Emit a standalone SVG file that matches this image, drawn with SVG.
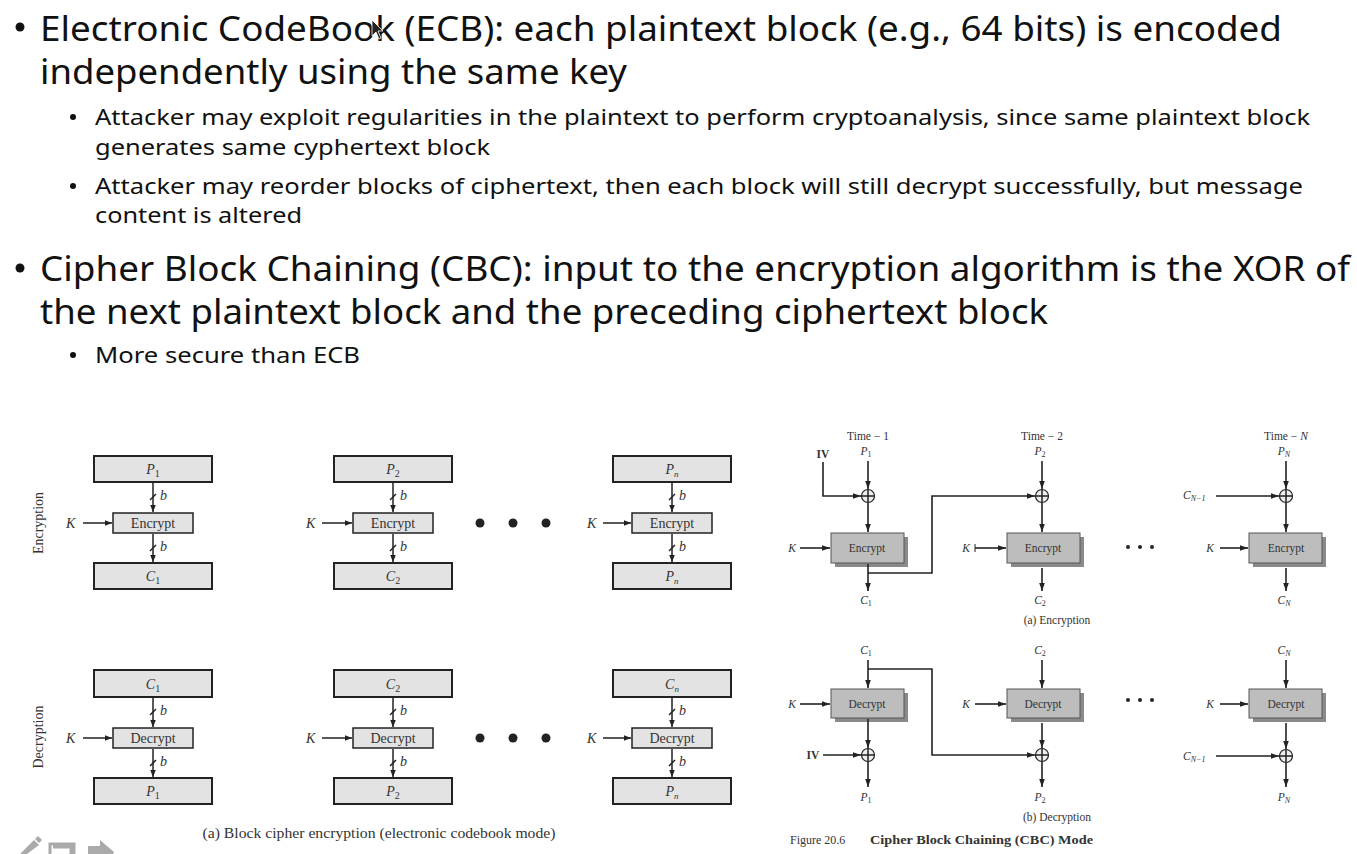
<svg xmlns="http://www.w3.org/2000/svg" width="1357" height="854" viewBox="0 0 1357 854">
<defs>
<marker id="ah" viewBox="0 0 10 10" refX="10" refY="5" markerWidth="7" markerHeight="7" markerUnits="userSpaceOnUse" orient="auto"><path d="M0,1 L10,5 L0,9 z" fill="#222"/></marker>
<marker id="ah2" viewBox="0 0 10 10" refX="10" refY="5" markerWidth="8" markerHeight="8" markerUnits="userSpaceOnUse" orient="auto"><path d="M0,1.5 L10,5 L0,8.5 z" fill="#222"/></marker>
</defs>
<style>
.h1{font-family:"Noto Sans","Open Sans","DejaVu Sans",sans-serif;font-size:35px;fill:#111}
.h2{font-family:"Noto Sans","Open Sans","DejaVu Sans",sans-serif;font-size:22.5px;fill:#111}
.box{fill:#e3e3e3;stroke:#222;stroke-width:2}
.ebox{fill:#e3e3e3;stroke:#222;stroke-width:1.5}
.st{font-family:"Liberation Serif","Times New Roman",serif;fill:#333}
.lbl{font-size:14px}
.it{font-style:italic}
.ln{stroke:#222;stroke-width:1.5;fill:none}
.ln2{stroke:#222;stroke-width:1.6;fill:none}
.cbox{fill:#bdbdbd;stroke:#555;stroke-width:1}
.shad{fill:#8a8a8a}
.sm{font-size:11.5px}
.xor{fill:#eee;stroke:#222;stroke-width:1.2}
</style>
<rect width="1357" height="854" fill="#ffffff"/>

<g id="text">
<circle cx="20" cy="27" r="4.5" fill="#111"/>
<text class="h1" x="40" y="41" textLength="1242" lengthAdjust="spacingAndGlyphs">Electronic CodeBook (ECB): each plaintext block (e.g., 64 bits) is encoded</text>
<text class="h1" x="40" y="84" textLength="587" lengthAdjust="spacingAndGlyphs">independently using the same key</text>
<circle cx="73" cy="117" r="3" fill="#111"/>
<text class="h2" x="95" y="125" textLength="1215" lengthAdjust="spacingAndGlyphs">Attacker may exploit regularities in the plaintext to perform cryptoanalysis, since same plaintext block</text>
<text class="h2" x="95" y="155" textLength="395" lengthAdjust="spacingAndGlyphs">generates same cyphertext block</text>
<circle cx="73" cy="186" r="3" fill="#111"/>
<text class="h2" x="95" y="194" textLength="1208" lengthAdjust="spacingAndGlyphs">Attacker may reorder blocks of ciphertext, then each block will still decrypt successfully, but message</text>
<text class="h2" x="95" y="223" textLength="207" lengthAdjust="spacingAndGlyphs">content is altered</text>
<circle cx="20" cy="268" r="4.5" fill="#111"/>
<text class="h1" x="40" y="281" textLength="1310" lengthAdjust="spacingAndGlyphs">Cipher Block Chaining (CBC): input to the encryption algorithm is the XOR of</text>
<text class="h1" x="40" y="324" textLength="1008" lengthAdjust="spacingAndGlyphs">the next plaintext block and the preceding ciphertext block</text>
<circle cx="73" cy="355" r="3" fill="#111"/>
<text class="h2" x="95" y="363" textLength="265" lengthAdjust="spacingAndGlyphs">More secure than ECB</text>
<path d="M372,20 L372,36 L376,32 L379,39 L381,38 L378,31 L383,31 Z" fill="#222" stroke="#fff" stroke-width="0.8"/>
</g>

<g id="ecb-labels" class="st">
<text x="43" y="523" font-size="14" text-anchor="middle" transform="rotate(-90 43 523)">Encryption</text>
<text x="43" y="737" font-size="14" text-anchor="middle" transform="rotate(-90 43 737)">Decryption</text>
<text x="379" y="838" font-size="14" text-anchor="middle" textLength="353" lengthAdjust="spacingAndGlyphs">(a) Block cipher encryption (electronic codebook mode)</text>
</g>

<g id="ecb-enc-1">
<rect class="box" x="94" y="456" width="118" height="26"/>
<text class="st it lbl" x="153" y="474" text-anchor="middle">P<tspan font-size="10" dy="3" font-style="normal">1</tspan></text>
<rect class="ebox" x="113" y="513" width="80" height="20"/>
<text class="st lbl" x="153" y="528" text-anchor="middle">Encrypt</text>
<rect class="box" x="94" y="563" width="118" height="26"/>
<text class="st it lbl" x="153" y="581" text-anchor="middle">C<tspan font-size="10" dy="3" font-style="normal">1</tspan></text>
</g>
<g id="ecb-enc-2">
<rect class="box" x="334" y="456" width="118" height="26"/>
<text class="st it lbl" x="393" y="474" text-anchor="middle">P<tspan font-size="10" dy="3" font-style="normal">2</tspan></text>
<rect class="ebox" x="353" y="513" width="80" height="20"/>
<text class="st lbl" x="393" y="528" text-anchor="middle">Encrypt</text>
<rect class="box" x="334" y="563" width="118" height="26"/>
<text class="st it lbl" x="393" y="581" text-anchor="middle">C<tspan font-size="10" dy="3" font-style="normal">2</tspan></text>
</g>
<g id="ecb-enc-n">
<rect class="box" x="613" y="456" width="118" height="26"/>
<text class="st it lbl" x="672" y="474" text-anchor="middle">P<tspan font-size="9" dy="3">n</tspan></text>
<rect class="ebox" x="632" y="513" width="80" height="20"/>
<text class="st lbl" x="672" y="528" text-anchor="middle">Encrypt</text>
<rect class="box" x="613" y="563" width="118" height="26"/>
<text class="st it lbl" x="672" y="581" text-anchor="middle">P<tspan font-size="9" dy="3">n</tspan></text>
</g>
<g id="ecb-dec-1">
<rect class="box" x="94" y="670" width="118" height="27"/>
<text class="st it lbl" x="153" y="689" text-anchor="middle">C<tspan font-size="10" dy="3" font-style="normal">1</tspan></text>
<rect class="ebox" x="113" y="728" width="80" height="20"/>
<text class="st lbl" x="153" y="743" text-anchor="middle">Decrypt</text>
<rect class="box" x="94" y="778" width="118" height="26"/>
<text class="st it lbl" x="153" y="796" text-anchor="middle">P<tspan font-size="10" dy="3" font-style="normal">1</tspan></text>
</g>
<g id="ecb-dec-2">
<rect class="box" x="334" y="670" width="118" height="27"/>
<text class="st it lbl" x="393" y="689" text-anchor="middle">C<tspan font-size="10" dy="3" font-style="normal">2</tspan></text>
<rect class="ebox" x="353" y="728" width="80" height="20"/>
<text class="st lbl" x="393" y="743" text-anchor="middle">Decrypt</text>
<rect class="box" x="334" y="778" width="118" height="26"/>
<text class="st it lbl" x="393" y="796" text-anchor="middle">P<tspan font-size="10" dy="3" font-style="normal">2</tspan></text>
</g>
<g id="ecb-dec-n">
<rect class="box" x="613" y="670" width="118" height="27"/>
<text class="st it lbl" x="672" y="689" text-anchor="middle">C<tspan font-size="9" dy="3">n</tspan></text>
<rect class="ebox" x="632" y="728" width="80" height="20"/>
<text class="st lbl" x="672" y="743" text-anchor="middle">Decrypt</text>
<rect class="box" x="613" y="778" width="118" height="26"/>
<text class="st it lbl" x="672" y="796" text-anchor="middle">P<tspan font-size="9" dy="3">n</tspan></text>
</g>

<g id="ecb-connectors">
<g class="ln" marker-end="url(#ah)">
<path d="M153,483 V512"/><path d="M153,534 V562"/>
<path d="M393,483 V512"/><path d="M393,534 V562"/>
<path d="M672,483 V512"/><path d="M672,534 V562"/>
<path d="M153,698 V727"/><path d="M153,749 V777"/>
<path d="M393,698 V727"/><path d="M393,749 V777"/>
<path d="M672,698 V727"/><path d="M672,749 V777"/>
<path d="M83,523 H112"/><path d="M322,523 H352"/><path d="M603,523 H631"/>
<path d="M83,738 H112"/><path d="M322,738 H352"/><path d="M603,738 H631"/>
</g>
<g class="ln">
<path d="M150,500 L156,494"/><path d="M150,551 L156,545"/>
<path d="M390,500 L396,494"/><path d="M390,551 L396,545"/>
<path d="M669,500 L675,494"/><path d="M669,551 L675,545"/>
<path d="M150,715 L156,709"/><path d="M150,766 L156,760"/>
<path d="M390,715 L396,709"/><path d="M390,766 L396,760"/>
<path d="M669,715 L675,709"/><path d="M669,766 L675,760"/>
</g>
<g class="st it" font-size="14">
<text x="160" y="500">b</text><text x="160" y="551">b</text>
<text x="400" y="500">b</text><text x="400" y="551">b</text>
<text x="679" y="500">b</text><text x="679" y="551">b</text>
<text x="160" y="715">b</text><text x="160" y="766">b</text>
<text x="400" y="715">b</text><text x="400" y="766">b</text>
<text x="679" y="715">b</text><text x="679" y="766">b</text>
<text x="66" y="528">K</text><text x="306" y="528">K</text><text x="587" y="528">K</text>
<text x="66" y="743">K</text><text x="306" y="743">K</text><text x="587" y="743">K</text>
</g>
<g fill="#222">
<circle cx="480" cy="523" r="4.5"/><circle cx="513" cy="523" r="4.5"/><circle cx="546" cy="523" r="4.5"/>
<circle cx="480" cy="738" r="4.5"/><circle cx="513" cy="738" r="4.5"/><circle cx="546" cy="738" r="4.5"/>
</g>
</g>

<g id="cbc-enc-1">
<text class="st sm" x="868" y="440" text-anchor="middle">Time − 1</text>
<text class="st sm it" x="866" y="455" text-anchor="middle">P<tspan font-size="8" dy="2" font-style="normal">1</tspan></text>
<text class="st sm" x="823" y="458" text-anchor="middle" font-weight="bold">IV</text>
<circle class="xor" cx="868" cy="496" r="6.5"/><path class="ln" d="M868,489.5 V502.5 M861.5,496 H874.5" stroke-width="0.8"/>
<rect class="shad" x="835" y="537" width="73" height="30"/>
<rect class="cbox" x="831" y="533" width="73" height="30"/>
<text class="st sm" x="867" y="552" text-anchor="middle">Encrypt</text>
<text class="st sm it" x="792" y="552" text-anchor="middle">K</text>
<text class="st sm it" x="866" y="604" text-anchor="middle">C<tspan font-size="8" dy="2" font-style="normal">1</tspan></text>
</g>
<g id="cbc-enc-2">
<text class="st sm" x="1042" y="440" text-anchor="middle">Time − 2</text>
<text class="st sm it" x="1040" y="455" text-anchor="middle">P<tspan font-size="8" dy="2" font-style="normal">2</tspan></text>
<circle class="xor" cx="1042" cy="496" r="6.5"/><path class="ln" d="M1042,489.5 V502.5 M1035.5,496 H1048.5" stroke-width="0.8"/>
<rect class="shad" x="1011" y="537" width="73" height="30"/>
<rect class="cbox" x="1007" y="533" width="73" height="30"/>
<text class="st sm" x="1043" y="552" text-anchor="middle">Encrypt</text>
<text class="st sm it" x="966" y="552" text-anchor="middle">K</text>
<text class="st sm it" x="1040" y="604" text-anchor="middle">C<tspan font-size="8" dy="2" font-style="normal">2</tspan></text>
</g>
<g id="cbc-enc-n">
<text class="st sm" x="1286" y="440" text-anchor="middle">Time − <tspan font-style="italic">N</tspan></text>
<text class="st sm it" x="1284" y="455" text-anchor="middle">P<tspan font-size="8" dy="2">N</tspan></text>
<circle class="xor" cx="1286" cy="496" r="6.5"/><path class="ln" d="M1286,489.5 V502.5 M1279.5,496 H1292.5" stroke-width="0.8"/>
<text class="st sm it" x="1183" y="499">C<tspan font-size="8" dy="2">N−1</tspan></text>
<rect class="shad" x="1253" y="537" width="73" height="30"/>
<rect class="cbox" x="1249" y="533" width="73" height="30"/>
<text class="st sm" x="1286" y="552" text-anchor="middle">Encrypt</text>
<text class="st sm it" x="1210" y="552" text-anchor="middle">K</text>
<text class="st sm it" x="1284" y="604" text-anchor="middle">C<tspan font-size="8" dy="2">N</tspan></text>
<g fill="#222"><circle cx="1128" cy="547" r="2"/><circle cx="1140" cy="547" r="2"/><circle cx="1152" cy="547" r="2"/></g>
<text class="st sm" x="1057" y="624" text-anchor="middle">(a) Encryption</text>
</g>

<g id="cbc-dec-1">
<text class="st sm it" x="866" y="654" text-anchor="middle">C<tspan font-size="8" dy="2" font-style="normal">1</tspan></text>
<rect class="shad" x="835" y="693" width="73" height="29"/>
<rect class="cbox" x="831" y="689" width="73" height="29"/>
<text class="st sm" x="867" y="708" text-anchor="middle">Decrypt</text>
<text class="st sm it" x="792" y="708" text-anchor="middle">K</text>
<circle class="xor" cx="868" cy="755" r="6.5"/><path class="ln" d="M868,748.5 V761.5 M861.5,755 H874.5" stroke-width="0.8"/>
<text class="st sm" x="813" y="759" text-anchor="middle" font-weight="bold">IV</text>
<text class="st sm it" x="866" y="801" text-anchor="middle">P<tspan font-size="8" dy="2" font-style="normal">1</tspan></text>
</g>
<g id="cbc-dec-2">
<text class="st sm it" x="1040" y="654" text-anchor="middle">C<tspan font-size="8" dy="2" font-style="normal">2</tspan></text>
<rect class="shad" x="1011" y="693" width="73" height="29"/>
<rect class="cbox" x="1007" y="689" width="73" height="29"/>
<text class="st sm" x="1043" y="708" text-anchor="middle">Decrypt</text>
<text class="st sm it" x="966" y="708" text-anchor="middle">K</text>
<circle class="xor" cx="1042" cy="755" r="6.5"/><path class="ln" d="M1042,748.5 V761.5 M1035.5,755 H1048.5" stroke-width="0.8"/>
<text class="st sm it" x="1040" y="801" text-anchor="middle">P<tspan font-size="8" dy="2" font-style="normal">2</tspan></text>
<text class="st sm" x="1057" y="821" text-anchor="middle">(b) Decryption</text>
</g>
<g id="cbc-dec-n">
<text class="st sm it" x="1284" y="654" text-anchor="middle">C<tspan font-size="8" dy="2">N</tspan></text>
<rect class="shad" x="1253" y="693" width="73" height="29"/>
<rect class="cbox" x="1249" y="689" width="73" height="29"/>
<text class="st sm" x="1286" y="708" text-anchor="middle">Decrypt</text>
<text class="st sm it" x="1210" y="708" text-anchor="middle">K</text>
<circle class="xor" cx="1286" cy="756" r="6.5"/><path class="ln" d="M1286,749.5 V762.5 M1279.5,756 H1292.5" stroke-width="0.8"/>
<text class="st sm it" x="1183" y="760">C<tspan font-size="8" dy="2">N−1</tspan></text>
<text class="st sm it" x="1284" y="801" text-anchor="middle">P<tspan font-size="8" dy="2">N</tspan></text>
<g fill="#222"><circle cx="1128" cy="700" r="2"/><circle cx="1140" cy="700" r="2"/><circle cx="1152" cy="700" r="2"/></g>
</g>

<g id="cbc-connectors" class="ln2">
<g marker-end="url(#ah2)">
<path d="M868,461 V489"/><path d="M823,462 V496 H861"/><path d="M868,503 V532"/><path d="M800,548 H830"/><path d="M868,564 V591"/>
<path d="M868,573 H932 V496 H1035"/>
<path d="M1042,461 V489"/><path d="M1042,503 V532"/><path d="M975,548 H1006"/><path d="M1042,568 V591"/>
<path d="M1286,461 V489"/><path d="M1216,496 H1279"/><path d="M1286,503 V532"/><path d="M1220,548 H1248"/><path d="M1286,568 V591"/>
<path d="M868,660 V688"/><path d="M800,704 H830"/><path d="M868,719 V748"/><path d="M823,755 H861"/><path d="M868,762 V787"/>
<path d="M868,669 H932 V755 H1035"/>
<path d="M1042,660 V688"/><path d="M975,704 H1006"/><path d="M1042,723 V748"/><path d="M1042,762 V787"/>
<path d="M1286,660 V688"/><path d="M1220,704 H1248"/><path d="M1286,723 V749"/><path d="M1216,756 H1279"/><path d="M1286,763 V787"/>
</g>
<path d="M975,544 V552" stroke-width="1"/>
</g>

<g id="cbc-caption">
<text class="st" x="790" y="844" font-size="12" fill="#888">Figure 20.6</text>
<text class="st" x="870" y="844" font-size="12" font-weight="bold" fill="#222" textLength="223" lengthAdjust="spacingAndGlyphs">Cipher Block Chaining (CBC) Mode</text>
</g>

<g id="toolbar" fill="#aaa">
<path d="M20,854 L34,840 L39,845 L27,854 Z"/>
<path d="M35,839 L38,836 L42,840 L39,843 Z"/>
<path d="M50,854 V844 H74 V854 M53,847 H71 V854" fill="none" stroke="#aaa" stroke-width="3"/>
<path d="M88,854 V846 H100 V840 L114,852 L113,854 Z"/>
</g>
</svg>
